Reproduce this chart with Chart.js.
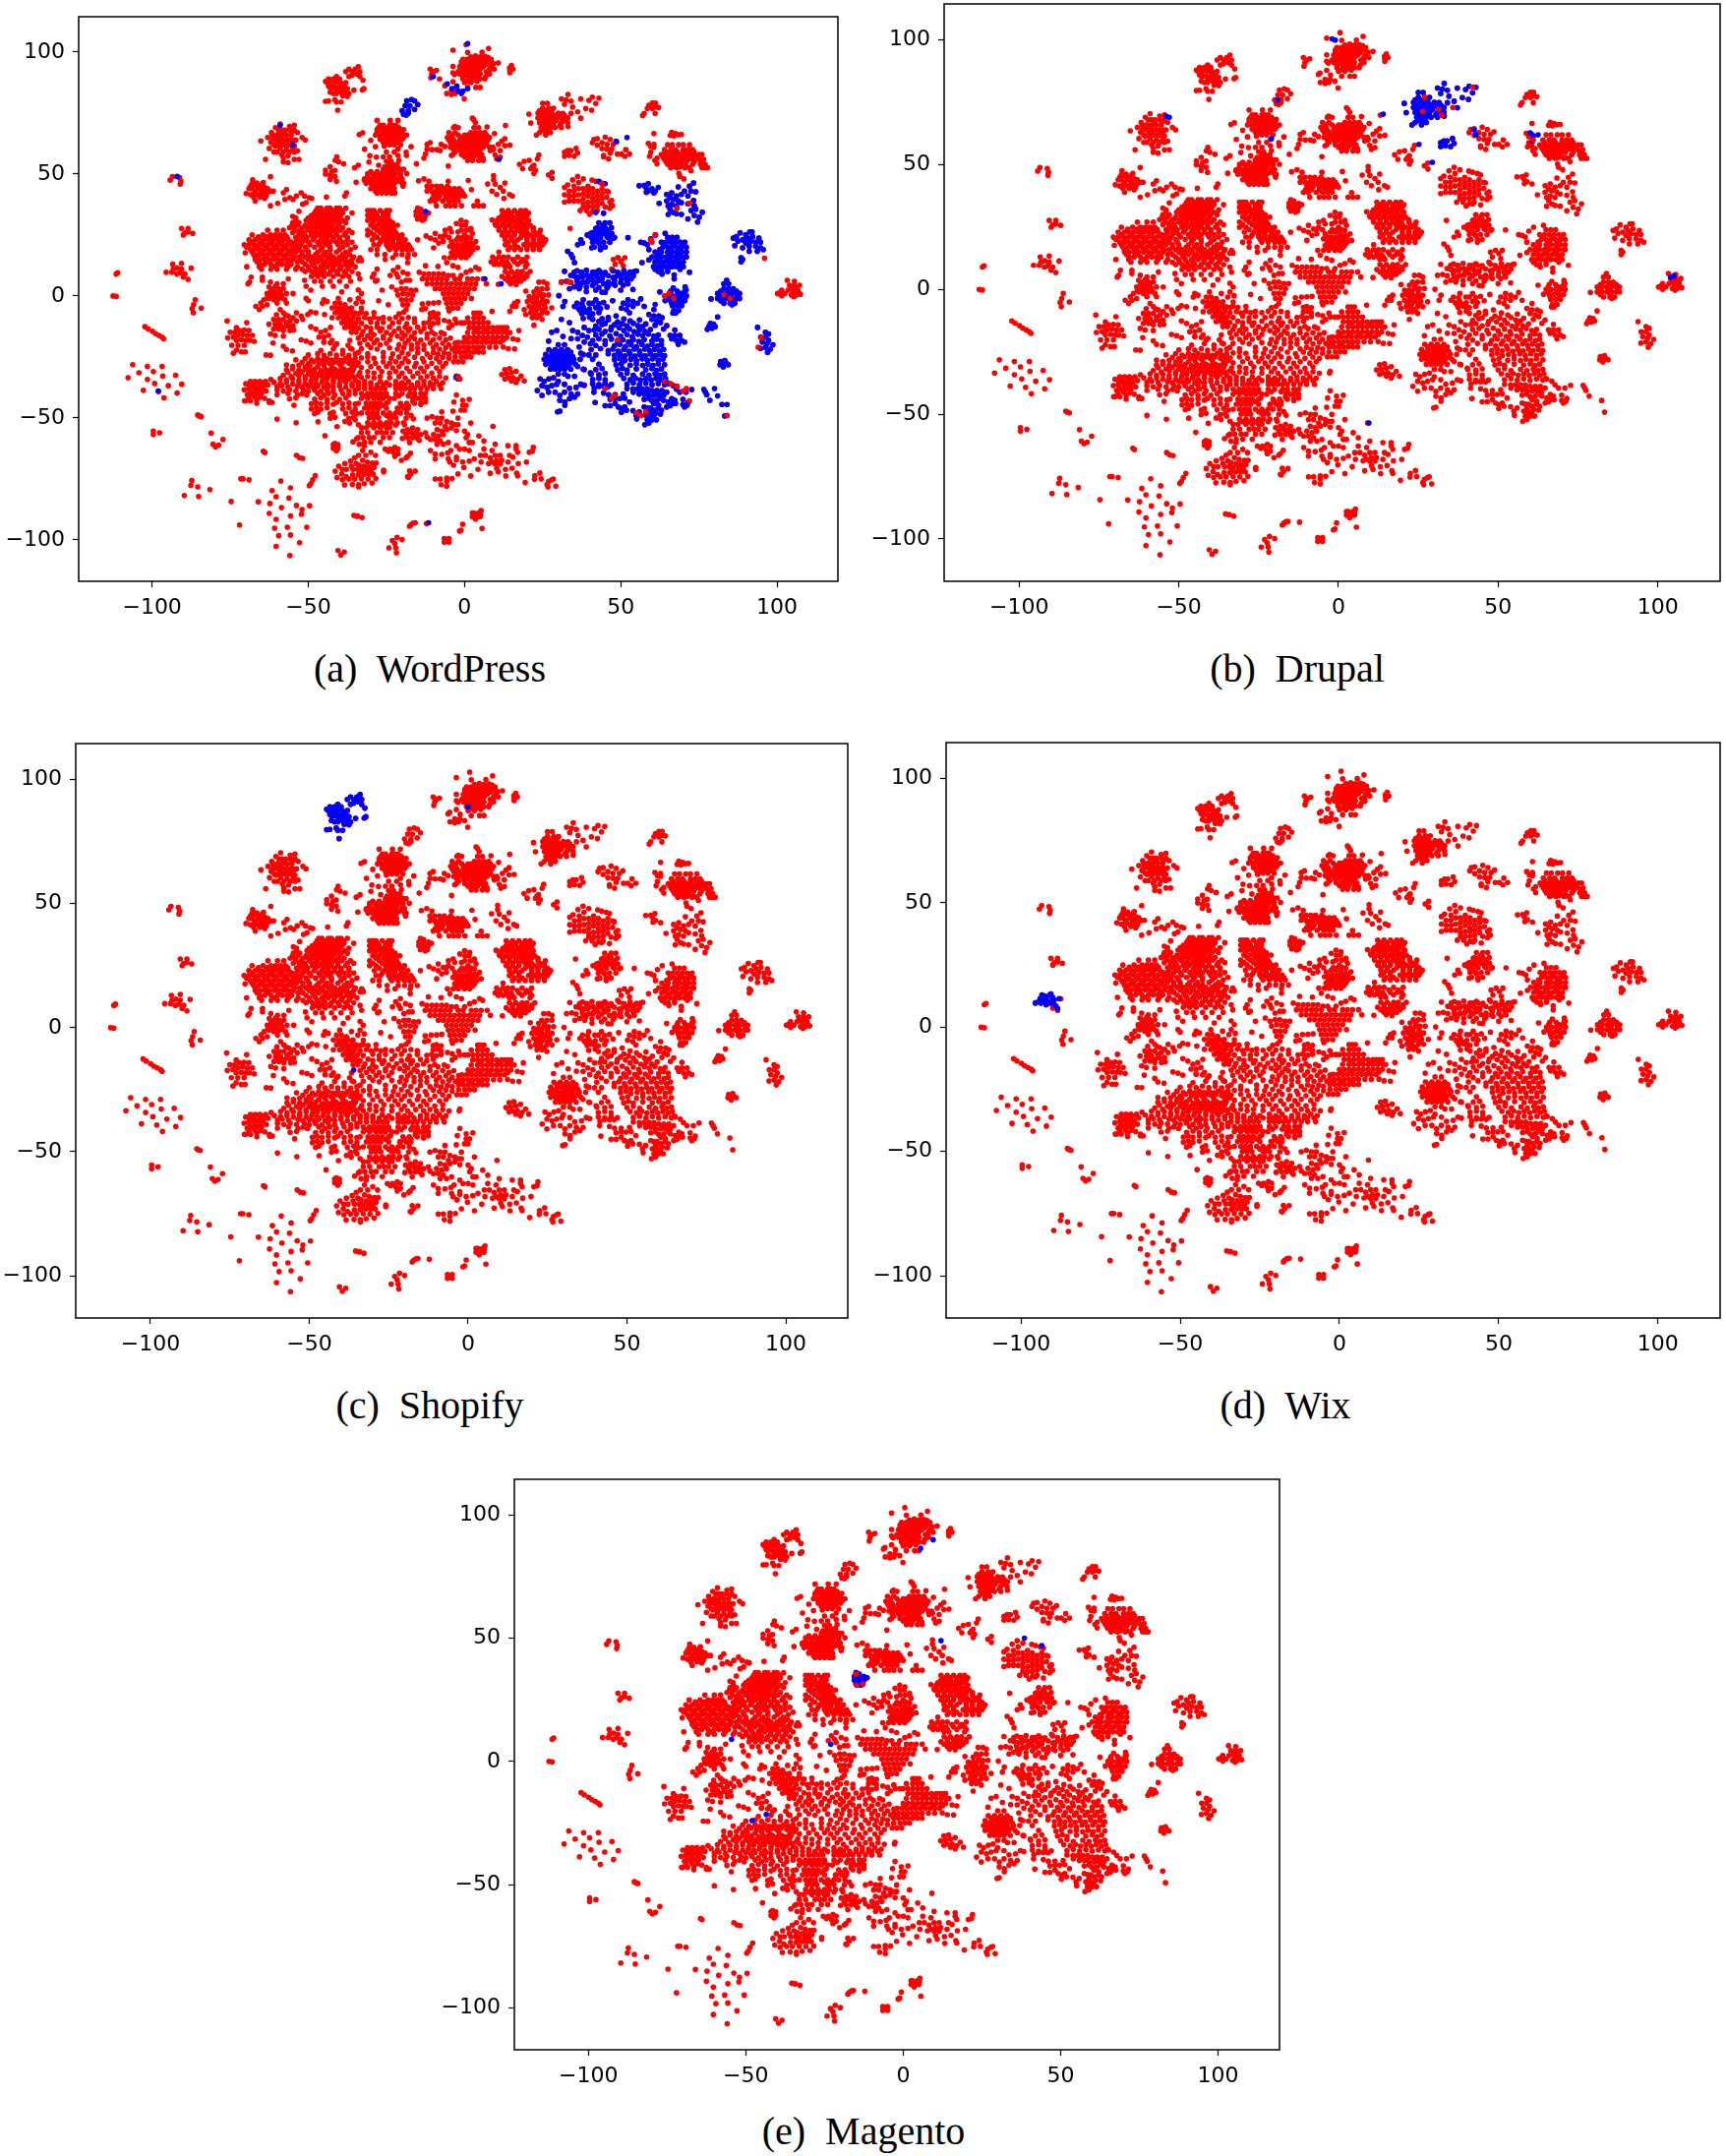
<!DOCTYPE html>
<html>
<head>
<meta charset="utf-8">
<title>t-SNE by CMS</title>
<script src="https://cdn.jsdelivr.net/npm/chart.js@4"></script>
<style>
html, body { margin: 0; padding: 0; background: #fff; }
#page { position: relative; width: 1755px; height: 2192px; overflow: hidden; }
canvas { position: absolute; }
.cap { position: absolute; font-family: "Liberation Serif", serif; font-size: 40px; color: #000; white-space: pre; transform: translateX(-50%); line-height: 44px; }
</style>
</head>
<body>
<div id="page"></div>
<script>
const tickValues = [-100, -50, 0, 50, 100];

const topLeft = [-44.5,88,-43.5,89,-43,87,-42,89,-41,90,-41,88,-40,89,-39.5,87,-38.5,86,-38,84,-37,83,-37.5,85,-39,84,-40.5,85,-42,85.5,-43.5,86,-41,83,-39,82,-42,83,-37.5,81.8,-44.5,79.8,-43.5,79.9,-41.5,80.5,-41,79.5,-39.5,79.5,-40.6,76.2,-35.4,84.4,-38,92,-37,93,-36,92,-35,93,-34.5,91,-36,90.5,-37,90,-34,94,-33.5,92,-33.5,90,-32.5,88.5,-32.2,85,-32.7,84.5];
const topLeftFill = [[87.5,-44,-42.5,-41,-39.7,-38],[85.5,-43,-41.5,-40,-38.5],[83.5,-43,-41,-39.5,-37.8]];
const upperLeft = [-63,65,-61.8,67,-60.5,69,-59,70.5,-58.5,68,-60,66,-62,63,-61,64.5,-59,65,-57.5,66.5,-56,69.5,-54.5,70,-55,67.5,-53.5,67,-54,64,-57,64,-59,63,-60.5,61.5,-62.5,60.5,-61,59,-59,60.5,-57.5,62,-56,62,-57,60,-58.5,58,-55,60.5,-56.5,57.5,-58,56.5,-58,55,-56.5,54.7,-54.5,56,-53,56,-65.2,63.6,-52,65,-51,64,-63.7,56,-54.5,61.5,-53.5,59.5,-55,63.3];
const upperLeftFill = [[68,-59.5,-57.5,-56,-54.5],[66,-61.5,-60,-58.5,-57,-55.5],[64,-61.5,-60,-58,-56,-55],[62,-61,-59.5,-58,-56.5,-55],[59,-60,-58,-56,-54.5]];
const nearUpperLeft = [-40.9,57,-41.4,55.6,-40.3,55,-38.7,54.2,-43,53,-44.5,51.6,-42.5,51,-44.5,50,-43,49.5,-41.5,49,-43,47.8,-41,47,-35.2,52.6,-34.7,46.6,-41.5,51.5];
const farLeft = [-93.5,48.9,-94.2,47.5,-91.2,48.5,-90.8,47,-91,45.8,-90.6,27.7,-88.5,27.7,-89.5,25.9,-90,25,-88.5,26.3,-87,25.7,-87.5,11.4,-111.5,9,-111,9.5,-112.5,0,-111.5,-0.2,-86.2,-1.6,-86.7,-3.6,-87.2,-5.2,-86.8,-6.9,-84.3,-5];
const wixSpot = [-93.4,13,-90.6,13.4,-95.5,9.7,-93.7,9.7,-92.1,9,-93.2,11,-90.6,11,-89.5,9,-88.5,6.8,-90,7.7,-92,11.5,-91,9.5];
const leftBlob = [-67.8,47.6,-68.5,45,-67,45.5,-65.5,45,-64,44.5,-63,44,-65,43,-67,43,-69,44,-66,41.5,-64,41.5,-63,42.5,-68.5,41.5,-67.5,40.5,-65.5,40.5,-64,40,-62,43,-61.2,43,-69.9,42,-67,39,-62.1,48.9,-64.4,46.5,-59.8,38,-62.1,37,-68,46,-66.5,46.3,-64.7,46,-68,44,-66,44,-64.5,43.2,-67.3,42,-65,42,-63.5,41];
const leftTrail = [-58,42.3,-57,43.6,-57.5,39.6,-55.9,40.3,-54.9,39.6,-52.3,42.3,-53.8,41,-51.2,41,-49.7,40.3,-50.7,38.3,-48.9,40,-51.8,37.6,-44.2,40.6,-37.8,42.3,-38.3,41];
const topCentre = [0.5,103,-3.7,100.8,1,99.9,7.7,101.5,5.6,100,2,98,3.5,98.4,5,98,6.5,98.2,7.5,97.8,-1,96,0.5,96.4,2,96,3.5,96.3,5,96,6.5,96,8,96.2,-1.5,94,0,94.2,1.5,94,3,94,4.5,94.2,6,94,8.5,94,-2,92,-0.5,92.2,1,92,2.5,92,4,92.2,7,92,-0.5,90,1,90.3,2.5,90,4,90.2,6.8,90,0.5,88,2.5,88.3,4,88,-3.7,94.1,-3.7,91.5,-3.2,90.8,10.8,95.5,9.3,95.2,7.9,92.1,-6.3,86.2,-5.8,86.8,-3.7,87.9,0,87.5,2,87.5,1,85.5,-4.2,84.2,-2.6,84.2,-1.1,83.5,-4.2,82.6,-5.7,83,-0.1,80.8,3.6,85.5,5,85.5,-2.5,86,-3,83,14.4,93.5,15.5,93,14.5,92.5,15,94.5,14.5,91.5,-11,93,-10,92,-9,92.5,-10.8,89.5,-10.5,91];
const topCentreFill = [[97,-0.5,1,2.5,4,5.7,7.3,8.5],[95,-1,0.7,2.2,3.8,5.2,7,9],[93,-1.2,0.5,1.8,3.3,5,8,9.5],[91,-1.5,0,1.7,3.2,5,8],[89,-0.5,1.5,3.3,5,6.5]];
const smallTop = [-18.5,80,-17,80.5,-16,80,-15,78.5,-17.5,78,-19,78,-16,76.5,-18,76,-20,76,-19.5,74.5,-18,75,-18.7,74.2];
const columnRows = [[72,-28,-23.8,-21.3],[70,-27,-26,-24,-23,-22],[68.2,-28,-26.5,-25,-23.5,-22,-20.5,-19.5],[66,-28.5,-27,-25.5,-24,-22.5,-21,-19.5,-18.5],[64.2,-27,-25.5,-24,-22.5,-21,-20],[62,-25.5,-24,-22.5,-20.5],[59,-25,-22.5],[57,-24,-26],[55.2,-23.5,-25],[54,-24,-23,-21.5],[52,-26,-25,-23.5,-22,-20.5,-19.5],[50.2,-31,-29.5,-28,-26.5,-25,-23.5,-22,-20.5,-18.5],[48,-32,-30.5,-29,-27.5,-26,-24.5,-23,-21,-20],[46.2,-31.5,-30,-28.5,-27,-25.5,-24,-22.5,-20,-19.5],[44,-30,-28.5,-27,-25.5,-24,-22.5],[42.2,-28,-26.5,-25,-23.5,-22.5]];
const columnFill = [[69,-27.5,-25.5,-24,-22.5,-21],[67,-28,-26,-24.5,-23,-21.5,-20],[65,-27,-25,-23.5,-21.5,-19.5],[63,-26,-24.5,-23,-21.5],[53,-25.5,-24.5,-23,-21.5],[51,-30,-28,-26,-24.5,-23,-21],[49,-31,-29,-27,-25.5,-24,-22.5,-20.5],[47,-31,-29.5,-28,-26.5,-25,-23.5,-21.5],[45,-29,-27.5,-26,-24.5,-23],[43,-28.5,-27,-25.5,-24]];
const columnSpots = [-32.6,66.9,-33.7,66.2,-30,63.8,-28.5,61.2,-32,60.2,-25.7,61.5,-21.3,60.2,-17.1,61.2,-18.7,58.9,-18.6,57.6,-30.3,57.5,-30.6,54.9,-28.2,56.9,-27.5,53.6,-21,55.6,-21.3,57.6,-34,53.6,-22.3,42.3,-19.7,45,-32.1,47.6];
const midTopRows = [[69,-3.5,-2,3,4.5],[67,-5,-3,2,3.5,5,6.5],[65,-5.5,-4,-1,0.5,2,3.5,5,6.5,8],[63,-4.5,-3,-1,1,2.5,4,5.5,7],[61,-4.5,-3,-1.5,0,1.5,3,4.5,6,8,9],[59,-3,-1,1.5,3,4.5],[57,0,1.5,3,5],[55.5,1,2.5,4.5,6]];
const midTopFill = [[66,-4,-2,0,1,3,4.5,6,7],[64,-5,-3.5,-1.5,0,1.5,3,4.5,6,7.5],[62,-3.5,-1.8,-0.3,1,2.5,4,5.3,7],[60,-3.5,-1.5,0,1.7,3.5,5,9],[58,-1,0.7,2.3,3.7,5.5]];
const midTopSpots = [3,72.2,2.5,72.9,3.5,71,-3.1,69.5,7.2,69.3,13.1,69.9,9.6,66.6,12.9,64.5,11.9,63.5,14.5,61.8,10.8,62.2,9.3,60.2,11.4,59.6,12.9,61.6,9.8,57.8,11.4,56.9,8.2,59.6,10.3,56.2,-12,62.2,-11,62.9,-7.5,62.2,-6.3,61.3,-12,60.2,-10.4,60,-8.8,60,-7.8,59.6,-12.5,58.2,-13,56.5,-3.7,58,-4.2,57.6,-15.4,54.2,-5.2,53.3,4.9,56.2,5.9,56.5];
const rightTopRows = [[79,25,26.5],[77,25,27,28.5],[75,23.5,25,26.5,28,30],[73,23.5,25,26.5,28,29.5,31,33],[71,24,25.5,27,28.5,31,33],[69,24.5,26,27.5,29,31],[67,24,26,27.5],[66,23,26],[76,24,26,27.8],[74,24.2,25.8,27.3,29,30.5,32],[72,24.5,26.3,27.7,29.3,32],[70,25,26.8,28.3,30.5],[68,25,26.8]];
const rightTopSpots = [20.6,74.6,21.2,70.9,33.1,82.6,31,80.8,32.5,80.4,34.1,79.9,32,78.6,34.6,77.5,37.2,80.8,39.8,80.2,38.8,76.9,36.2,75.5,34.1,74.9,37.2,72.9,33,72.9,31.5,74.9,33.1,69.5,40.9,81.5,43,81.1,42,78.9,40.7,76.2];
const stripA = [17.6,54,19.1,55.2,20.7,55.6,18.6,52.2,22.2,53.6,21.2,52.2,22.7,51.6,21.7,53,22.2,50.3,23.8,57.8,23.3,56.2,28,50.7,26.9,49.6,28,48.3];
const stripB = [32,58.9,33,59.6,34,59.6,35.7,60.5,32,57.3,33.5,57.6,35.1,57.3,36.2,58.6];
const leftOfCap = [9.3,49.3,9.3,47.6,7.4,45.9,9.8,45.8,11.4,44.5,8.8,43,10.3,41.6,12.9,46.3,12.4,43,12.6,40,15.3,41,14.4,41.6];
const underMidRows = [[45,-12,-10.5,-9,-7.5,-5.5],[43,-12,-10.5,-9,-7,-5.5,-4,-2.5,-1],[41,-9.5,-8,-6,-4.5,-3,-1.5,0],[39,-11,-9.5,-7,-5,-3.5,-2],[37,-9,-6,-4.5,-3,-1,3,4.5,6],[44,-11.2,-8,-6.5,-4.7,-3.2,-1.7],[42,-10,-8,-6.3,-5,-3.5,-2,-0.5],[40,-10.3,-8.5,-6,-4,-2.5]];
const underMidSpots = [-14.7,47.2,-13,48,-11.4,47,-5.2,47,1.2,47.3,2.2,43.6,4.1,38.9];
const rightBlob = [36.2,49,34.6,47.6,33,45.5,32,44.5,33.5,43,32,41.5,33.5,41,32,38.5,33.5,39,35,45,35,43,35,41,35,39,36.5,46.5,36.5,44,36.5,41.5,36.5,39,38,48,38,44,38,42,38,40,38,38,38,36.5,39.5,45,39.5,43,39.5,41,39.5,38.5,39.5,36.5,40.8,47.5,42,47,43.5,46.5,44.5,46,41,44,41,42,41,40,41,38.5,41,36.5,42.5,43,42.5,41,42.5,39,42.5,37,42.5,35,44,44,44,42,44,40,44,38,45.5,43,45.5,40.5,46.5,38.5,47,37,46.5,36,45,36.5,41,34.5,40,33.5,39,35,37,35,46,42.7,47.1,39.2,47.4,37];
const rightCap = [41.4,64.2,42.5,64.5,40.9,62.9,45,65.1,46.6,64.2,48.7,63.2,44,62.9,45.6,62.2,47.6,62.2,42.5,61.8,44,60.5,45.6,60.2,47.1,60.2,46.6,58.6,44.5,57.6,46.1,56.2,44.5,57,48.9,58.2,50.2,58.2,51.6,60,52.8,58.2,51.3,57.2];
const capRight = [60.1,79.1,61.1,79.1,59,78.2,62.1,77.3,58.5,76.9,60.1,76.9,61.1,77.6,61,74.9,57.5,74.9,57,74];
const eastTopRows = [[62,65,66.5,68.5,70,72],[60,64,66,67.5,70,71.5,73],[58,63,64.5,66,67.5,69,70.5,72,73.5,75,76],[56,64,65.5,67,68.5,70,71.5,73,75,76.5],[54,65,66.5,68,69.5,73,75.5,77],[52.6,66,68,70.5,72,76,77,77.8],[59,64.5,66.5,68,70,72,73.5],[57,63.5,65,66.5,68,69.5,71,72.5,74],[55,64.5,66,67.5,69,71,73.5,76],[53,66,67.3,69,71]];
const eastTopSpots = [60.6,66.6,66.3,67.1,67.5,66.6,65.8,65.8,67,65.6,69.4,66.2,68.4,66.1,58.8,62.6,60.6,62.2,59.6,61.3,60.6,61,59.6,58.9,59.2,57.2,61.6,56.5,60.9,55.6,61.6,54.2,72.5,51.3,68.6,50.3,68.9,49,70.2,48];
const stripC = [55.9,45.2,57.5,45.3,58.8,46,58,44.5,59,43.2,58.2,42.5,60.6,42.3];
const stripD = [73.3,46.3,72,45,68.4,44.7,70.4,43,69.4,41.6,74,42.7,72.5,43,64.7,41.6,66.3,42.3,71.5,41,67.8,41,65.8,40.3,66.8,39.6,64.7,39,73.3,39.2,68.4,39,66.3,37.5,67.8,36.9,65.2,36.9,69.4,38.3,62.3,38,71.5,37.8,73.5,37,65.8,35.6,66.8,34.3,65.2,33.4,67.8,33.7,69.4,33.4,72.5,35,74,35.6,76.1,34.3,71.5,31.6,73.5,33,75.1,32.3,74.6,30.3];
const stripE = [44.5,33.9,42,34.3,44.5,29,42,27.7,40.4,25.7,47.1,25.7,47.6,23.7,44.5,25.7,43,25,45.6,24.3,40.9,23.7,42,23,43,21.7,40.7,19.7,43.5,19,52.3,23.9,37.2,23,39.3,25,40.4,24.3,45,28,46,27,43.5,27,41.5,25.5];
const stripEFill = [[30,43,45,46.5],[28,42.5,44,47],[26,41,42.7,44.5,46],[24,41.5,43.5,46,48],[22,41,42.7,44.5,46.5],[20,41.5,43.5,45]];
const eastBlobRows = [[24,65,66.5,68],[22,63,64.5,66,67.5,69,70.5],[20,63.5,65,66.5,68,69.5,71],[18,61,63,65,66.5,68,69.5,71],[16,60,61.5,63,64.5,66,67.5,69,70.5,71],[14,61,62.5,64,65.5,67,68.5,70],[12,60.5,62,63.5,65,66.5,68,70],[10,62,63,65],[21,63.8,66.8,70],[19,62.5,65.8,68.8],[17,62.3,65.3,68.3],[15,62,65,68],[13,63,66,69],[11,61,65,69]];
const eastBlobSpots = [56.4,22,57.5,21.7,59.6,23.4,61.1,25,64.2,25.7,58.5,21,59,19,56.8,13.7,59,14.8,63.2,9,67.1,8.6,67.1,7,72,9.7];
const eastLowRows = [[2,66,68,70.5],[0,65,66.5,68,69.5,71],[-2,66,67.5,69,70.5],[-4,66.5,68,69.5],[-6,67,68.5],[-7,66.7,67.5],[1,65.7,69,70.5],[-1,65.5,68.7],[-3,66.3,69.3]];
const eastLowSpots = [66.8,3.3,70.6,3.7,62.5,1.7,64.2,-1.9,70.9,2.4];
const farEastRows = [[5,83,84.5],[3,83,84.5,86],[1,81,82.5,84,85.5,87,88],[-1,81,82.5,84,85.5,87,88],[-3,83,85,86.5],[2,82,85.2,87],[0,81.7,84.8,87.5],[-2,82,85.2]];
const farEastSpots = [83.9,6.4,78.9,-1.2,85.6,-3.6];
const dotsG = [81,-8.6,78.7,-11.3,79.7,-11.6,80.2,-12.6,78.2,-12.6,77.7,-13.7,79.2,-13.2];
const dotsH = [93.8,-12.9,96.3,-14.9,97.3,-15.6,94.8,-16.9,96.3,-16.9,97.3,-18.2,95.3,-18.9,96.8,-19.6,98.7,-20,94.7,-21.5,96.3,-21.1,97.8,-21.8,97,-23.1];
const dotsI = [82.8,-27.5,81.8,-28.2,83.9,-27.8,82.8,-29.1,83.3,-26.5,82,-26.9,84.4,-28.2];
const farEastUp = [88.2,25.9,87,24.3,86,23.7,91.3,26.3,92,26.3,86.5,20.6,89,23,90.6,23.7,92.2,24.3,94.2,23.7,94.7,22,90,21.7,91.6,22.3,93.2,22,89,19.7,91.1,20.3,93.2,20.3,94.7,19.7,91.1,18.3,93.7,18.3,95.6,19,88.5,15.7,89,15,88.5,14,90,25,87.5,22.5];
const farEastRight = [103.3,6.4,105.6,6,101.5,2.4,100.2,1,101.5,0.1,102.5,1,101,1.5,104,4.4,105.6,4.4,107.2,4.4,103.5,2.4,105.1,2.4,106.7,2.4,107.5,0.7,104.6,0.4,106.1,0.4,105.4,-0.3,104.5,3,106,3.2,105.3,1.3,106.8,1.3];
const clusterLupper = [49.2,15.7,51.3,15.7,47.6,15,50.2,14.4,48.2,13,47.1,11,50.8,12.4];
const clusterLlower = [49.2,9,50.8,9,52.3,9,54.4,10,48.2,7.7,50.2,7,51.8,7,53.3,7,50.8,4.4,52.3,5,53.9,2.7,50,2.4,48.2,4.4,47.6,5,41.9,9.7,43.5,9.7,45,9,40.9,8.4,42.5,7.7,44,7,40.9,6.4,44.5,5,45.6,3.3,45,1.5];
const rowEast = [36,10.3,37.5,9.6,39,10.5,41,9.7,43,10.4,45,9.6,47.5,10.3,49,9.7,51,10.4,53,9.8,55,10.2,35,8.2,36.5,7.6,38,8.3,40,7.5,42,8.5,44,7.6,46,8.3,47.5,7.5,49.5,8.4,52,7.6,54,8.2,36,6.2,38,5.6,39.5,6.3,42,5.5,43,6.3,46,5.7,48,6.3,50,5.5,52,6.2,37,4.2,39,3.6,41,4.3,43,3.5,46,4.1,39,1.8,42,2.4,44,1.6,43,-3.2,44.5,-2.7,36.5,-5.2,38,-4.7,40,-5.3,42,-4.8,43.5,-5.2,37.5,-7.2,39,-6.7,41,-7.3,43,-6.8,38,-9.2,40,-8.7,44,-9.3,46,-8.8];
const lowerTop = [42,-1.6,41,-3,47.4,-2,45.6,-4.5,48.5,-8.2,52.3,-1.6,53.9,-2.3,50.8,-3,52.3,-3.6,53.9,-4.3,55.4,-3,56.4,-1.2,57.5,-4.3,50.2,-5,51.8,-5.6,52.8,-6.9,60.6,-5.6,59,-7.6,60.6,-8.2,62.2,-8.2,63.2,-8.9,60,-9.6,61.6,-10.2,62.7,-10.9,67.3,-14,65.8,-16.2,67.3,-16.2,68.9,-16.2,66.3,-17.6,67.8,-18.2,69.4,-18.2,70.4,-18.9,68.4,-19.8,64.7,-12.2,63.7,-13.6];
const lowerCloud = [41,-9.6,43,-10.4,46,-9.8,49,-10.6,51,-9.4,53,-10.2,56,-9.8,45,-11.3,48,-11.8,50.5,-11.4,52,-12.3,54,-11.2,55.5,-12.2,58,-11.5,42,-12.4,44,-11.7,47,-12.8,49.5,-13,57,-12.6,61,-12,41.5,-14,43,-13.7,45,-14.6,46.8,-13.9,51,-14.2,52.8,-13.6,54.3,-14.7,56,-14,57.8,-14.6,59.5,-13.8,42,-16,44,-15.6,46.5,-16.4,48.5,-15.5,50,-16.6,52,-15.9,53.7,-16.8,55.5,-15.7,57,-16.3,58.8,-15.6,60.5,-16.5,62,-16,41,-18.3,43,-17.6,45,-18.4,47,-17.7,49,-18.6,50.7,-18,52.5,-18.8,54,-18,55.8,-18.7,57.5,-17.9,60,-18.5,61.5,-17.8,63,-18.3,42,-20.3,45,-19.8,48,-20.4,49.7,-19.9,51.5,-20.7,53.3,-20,55,-20.8,56.8,-19.9,58.5,-20.6,60,-19.9,61.7,-20.5,63,-20,40.5,-22,43.5,-21.6,46,-22.4,47.5,-21.7,49.2,-22.6,51,-21.9,52.6,-22.7,54.3,-21.8,56,-22.6,57.7,-21.8,59.3,-22.5,60.8,-21.9,62.4,-22.6,63.7,-21.9,42,-24.2,46,-23.7,48,-24.4,49.7,-23.8,51.3,-24.6,53,-23.9,54.6,-24.7,56.2,-24,57.8,-24.6,59.5,-23.8,61,-24.5,62.6,-24,64,-24.5,41,-26,48,-26.2,49.7,-25.6,51.3,-26.5,53.2,-26,55,-26.6,56.8,-25.8,58.5,-26.4,60.2,-25.8,62,-26.4,63.5,-25.9,43,-28,48.5,-28.3,50.2,-27.8,53,-28.4,55,-27.9,57,-28.5,58.7,-28,60.3,-28.5,62,-27.9,64,-28.2,42,-30.2,44,-29.8,49,-30.3,50.5,-29.7,52,-30.4,55,-29.9,58,-30.3,60,-29.8,61.5,-30.5,63,-29.9,40.5,-32,43,-32.3,45,-31.8,50,-32.2,52,-31.7,54,-32.5,57,-32,59,-32.5,61,-31.9,62.5,-32.5,64,-32,41,-34.2,43,-33.8,45,-34.3,51,-33.8,53,-34.3,54.7,-33.7,56.3,-34.4,58,-33.8,59.7,-34.4,61.3,-33.8,63,-34.4,64.3,-33.8,41,-36,43,-36.4,45,-35.8,47,-36.3,52,-36.2,54,-35.7,56,-36.4,58,-35.8,60,-36.4,62,-35.9,64,-36.3,65,-35.7];
const lowerEdge = [41.5,-37.8,43,-37,44.5,-37,46,-37.1,52,-38,53.9,-38.2,55.4,-38.2,57,-38.2,58.5,-38.2,60,-38.8,61.6,-38.8,63.2,-38.8,64.7,-39.5,55.9,-40.2,57.5,-40.2,59,-40.8,60.6,-40.8,62.2,-40.8,63.7,-40.8,57.5,-42.4,61.6,-42.8,63.2,-42.1,41.4,-39.5,44.5,-39.8,46.1,-40.5,48.2,-40.5,50.8,-40.2,46.6,-42.4,48.2,-42.1,49.7,-42.1,51.3,-41.9,52.8,-43.5,45,-45,46.6,-45,48.2,-44.1,49.2,-45.5,50.2,-46.1,51.3,-45.5,50.2,-47.7,51.8,-46.8,66.3,-42.1,67.3,-42.8,65.2,-43.5,66.3,-44.1,64.7,-45.5,67.5,-44.1,65.8,-45,65.2,-36,66.8,-36.8,67.8,-38.2,68.9,-39.5,70.9,-39.5,72.7,-38.4,69.9,-42.4,71.5,-43.7,69.9,-44.5,70.4,-45.5,71.2,-44.8,53.9,-47,55.9,-47.5,54.9,-48.8,55.1,-50.4,57.5,-45.5,58.5,-45.9,59,-47.5,60.6,-46.8,58,-48.8,59.5,-48.8,61.1,-48.1,62.7,-48.4,58.5,-50.8,60,-50.8,61.4,-50.8,57.7,-52.8,59,-52.1,60.6,-44.1,62.1,-44.8,63.7,-42.8,54,-39.5,56.5,-39.2,58.5,-39.7,61,-39.8,62.5,-39.8,59,-42,60,-43,62,-46,63,-46.8,59.5,-46,60.5,-49.5,59,-49.8];
const lowerOut = [76.6,-38.4,77.1,-39.5,77.5,-40.5,78.5,-42.8,82.4,-44.5,83.3,-49.2,41.8,-43.7];
const blobWest = [30,-20,32,-20,27,-22,29,-22,31,-22,33,-22,26,-24,28,-24,29.5,-24,31,-24,32.5,-24,34,-24,38,-24,25.5,-26,27,-26,28.5,-26,30,-26,31.5,-26,33,-26,35,-26,37,-26,26,-28,27.5,-28,29,-28,30.5,-28,32,-28,33.5,-28,35.5,-28,27.5,-30,29,-30,30.5,-30,32,-30,34,-30,38,-30,30,-32,32,-32,27.9,-14.9,26.9,-18.5,29.5,-14.2,31.5,-16.6,34.1,-17.5,38.3,-12.9,39.8,-14.2,36.2,-14.9,37.7,-16.2,39.3,-16.9,34.6,-14.2,36.2,-17.6,38.3,-18.9,40.3,-19.6,36.7,-20.9,31,-9.6,33.6,-10.9,37.2,-23.5,39.8,-24.2,34.6,-24.9,36.2,-28.9,38.3,-30.2,40.3,-31.5,33.1,-32.9,35.2,-32.9,24.2,-34,25.5,-35,27,-34,28.5,-33.5,30,-35];
const blobWestFill = [[-23,28,30,32,34],[-25,26.5,28,30,31.5,33],[-27,26.7,28.2,29.7,31.2,32.7,34.5],[-29,28.2,29.7,31.3,33]];
const bandSouth = [23.3,-38.8,24.8,-36.8,26.4,-37.5,27.9,-36.8,29.5,-36.2,32,-36.2,33.6,-37.9,35.7,-37.5,37.2,-36.2,38.3,-36.6,24.8,-40.8,26.9,-39.5,29,-39.5,30.5,-40.8,32,-39.5,34.1,-40.2,36.2,-40.2,30.5,-42.8,32.1,-43.5,33.6,-42.1,35.2,-41.5,32.1,-44.8,30.5,-47.2,29.8,-47.5];
const northEastMid = [38,-1.6,36,-3,37.6,-3.3,39.9,-3,38,-5,35.2,-4.3,37,-6,38.8,-6,40,-7,32,10.1,35.1,9.7,37.2,9.7,34,8.4,35.7,7.7,37.7,7.7,39.3,8.4,31,5.7,32.6,6,34,5.5,36.2,5,37.7,5.5,39.3,5.7,35.1,3.7,36.7,3,33.6,3,30.2,0.1,32.1,-2.3,31.5,-4.3,33,18.3,34.1,17,34.6,15.7,35.2,13.7,37.7,21.7,36.2,21];
const clusterMid = [23.8,5.7,25.3,5.7,26.4,5,19.6,2,22.2,1.7,23.2,3,24.8,3,26.4,3,20.7,-0.3,22.2,-0.3,23.8,0.4,25.3,0.4,26.9,0.4,20.1,-2.3,21.7,-2.3,23.2,-2.3,24.8,-2.3,26.4,-2.3,27.9,-4.9,19.1,-5.6,20.7,-4.3,22.2,-4.3,23.8,-4.9,25.8,-4.9,19.6,-7.6,21.2,-6.9,22.7,-6.9,24.8,-6.9,26.4,-6.9,21.7,-8.9,23.2,-8.9,24.8,-9.6,22.2,-12,17,-2.3,16,-3,15.3,-4.3,14.5,-6.3,16.5,-4.3,8.8,-6.3,17.4,-14.2,17,-18,15.5,-17.6,12.4,-20.9,14,-21.6,16,-21.7,24,1.5,21.5,-1.3,23,-1,25,-1,22.5,-3.5,24,-3.5,25.5,-3.7,21.5,-5.5,23,-5.7,25,-5.7,22.5,-7.8,24,-8];
const dotsSouthEast = [12.9,-30.2,14.4,-29.8,11.9,-32.2,13.4,-31.8,15,-31.5,16.5,-30.9,18.1,-32.8,13.9,-33.5,15.5,-33.5,17,-34.2,19.1,-34.8,15,-34.8,16.5,-35.5,12.9,-34,-2.8,-33.5,-2.6,-32.8];
const archRows = [[35,12,14,16,18,19.5],[33,12,13.5,15,17,18.5,20],[31,10.5,12,13.5,15,16.5,18,20.5],[29,10,12,14,16,17.5,19,21],[27,11,13,15,17,19,22,24.3],[25,12,14,16,19,21,23,24],[23,13,15,17,20,22,24,26],[21,13,16,19,21,23,25],[19,14,16,18,20,22,24],[18,11],[16,9,11,12.5,14,17,20],[14,8.5,10,12,13.5,16,18,19.5],[12,13,14.5,19.5],[10,13,15,17,18.5,21],[8,12,14,16,17,18.5,20],[6,14,15.5,17,18]];
const archFill = [[34,13,15,17,19,20.5],[32,11,13,14.5,16,17.7,19.3],[30,10.5,12.5,14.5,16.5,18.5,20],[28,11,13,15,16.7,18,20,22],[26,12.3,14,16,18,20,22.5,24],[24,13,15,18,20,22,25],[22,14,16,20,22,24,25.5],[20,14.5,17,20,22,24],[15,10,12,15.5,18.5],[13,9.5,11,12.5,14,17,20],[9,14,16,18,20],[7,13,15,17,19]];
const archSpots = [8.8,31.2,9.8,29.4,10.8,4.8,14.7,5,16.5,4.7,33.8,27.7];
const midBlob = [-1.1,31,-2.6,29.7,0.5,30.3,2,27.7,2.5,25.7,-4.7,27.7,-6.2,27,-9.4,25.7,-10.9,23.7,-7.8,24.3,-6.2,25,-9.4,23,-8.3,21.7,-9.9,19.7,-6.8,22.3,-4.2,26.3,-2.1,26.3,0,25,2,23.7,3.6,22.3,-4.2,22.3,-2.6,23,-1.1,23,0.5,22.3,2,21.7,-4.7,20.3,-3.1,20.3,-1.6,20.3,0,20.3,1.5,19.7,4.1,19.7,-4.2,17.7,-2.6,17.7,-1.1,17.7,0.5,17.7,2,17.7,-3.1,15.7,-1.1,15.7,0.5,15.7,-4.7,15.7,-6.5,15.7,-5.7,13.7,-3.7,12.4,-2.1,11.7];
const midBlobFill = [[24,-2,-0.5,1,-5,-7],[21,-3.5,-2,-0.5,1,2.7],[19,-3.5,-2,-0.3,1,2.7],[16.7,-3.5,-1.8,0,1.3],[27,-1,0.7,2],[29,-1,0.3]];
const sweepRows = [[35,-31,-30,-29,-27,-25,-24],[33,-31,-29.5,-28,-26,-24.5],[31,-31,-29,-27.5,-26,-24],[29,-30,-28,-26,-24,-23,-21.5],[27,-31,-28,-25.5,-24,-22.5],[25,-31,-29,-26,-24.5,-23,-21.5,-20],[23,-29.5,-26.5,-24.5,-23,-21,-19],[21,-29,-27.5,-25,-23.5,-21.5,-20,-18],[19,-30,-28,-24,-22,-20,-18.5,-17],[17,-28,-25.5,-22,-20,-18,-16]];
const sweepFill = [[34,-30,-28.5,-26,-24.5],[32,-30,-28,-26.5,-25],[30,-29.5,-27,-25,-23],[28,-29,-26.5,-25,-23],[26,-30,-27,-25,-23.5,-22],[24,-28,-25.5,-23.7,-22,-20.5],[22,-27,-25,-23,-21,-19.5],[20,-24.5,-22.5,-21,-19,-17.5]];
const sweepSpots = [-15,23,-12.3,24.6,-18.2,15.7,-18.2,13.7,-25.4,15,-23,15.7,-33.2,15,-34,14.5];
const knotCore = [-15,36,-14,35.5,-15.5,34.5,-14,34,-12.5,34.5,-15.5,33,-14,32.5,-12.5,33,-11.5,34,-15,31.5,-13.5,31,-12.8,31.5];
const sideWest = [-28,11,-29,9,-29.5,7.7,-28,6.4,-28.5,6,-21.3,11.7,-22.8,10.4,-21.8,9,-23.8,8.4,-21.3,7.7,-19.7,9.7,-18.2,9,-17.6,6.4,-18.7,6.4,-20.2,5.7,-26.4,2.4,-23.3,3.7,-21.8,2.4,-20.2,3,-18.7,3,-17.1,2.4,-15.6,2.4,-21.3,0.4,-19.7,1,-18.2,0.7,-16.6,0.4,-20.2,-1.6,-18.7,-1.6,-17.1,-1.6,-19.7,-3.6,-18.2,-3.6,-27.5,-2,-24.4,-3.6,-18.7,-5.6,-13.5,-3.3,-11.6,-3,-9.9,-2.9,-8.3,-2.7,-13.7,-5.6,-12.5,-5.2,-33.5,15.7,-33,14.5,-34,9,-33.5,7,-34,2.5,-33,1,-34,-1,-32.7,-2.5,-33,-5,-33.5,-7];
const centreSpots = [-12.5,12.4,-8.5,12.1,-3.7,8.4,3.6,11.7,4.6,11,2,10.4,0.5,9.7,-1.1,8.4,-14.5,9.7,-13,9,-11.4,9,-9.9,9,-8.3,9,-6.8,9,-5.2,8.4,-4.9,-6.2,2.2,-1,6,7,7,5];
const centreRows = [[7,-13.5,-12,-10.4,-8.8,-7.3,-5.7,-3.1,-1.6,1,2.5,4.1],[5,-12,-10.4,-8.8,-7.3,-5.7,-4.2,-2.6,-1.1,0.5,2,3.6],[3,-9.4,-7.8,-6.2,-4.7,-3.1,-1.6,0,1.5,3.1],[1,-6.8,-5.2,-3.7,-2.1,-0.6,1],[-1,-6.2,-4.7,-3.1,-1.6,0],[-3,-5.7,-4.2,-2.6,-1.1],[-5,-5.2,-3.7,-2.1]];
const armRows = [[-7,3,4,5],[-9,1,3,4.5,6],[-11,-1.1,0,1.5,3,4.5,6,7.5],[-13,1.5,3,4.5,6,7.5,9,10.5,11.5,12.5,13.5],[-15,1,3,4.5,6,7.5,9,10.5,12,13.5,14.5],[-17,0,1.5,3,4.5,6,7.5,9,10.5,12,13.5],[-19,-2,-0.5,1,2.5,4,5.5,7,8.5,10,11.5],[-21,-3,-1.5,0,1.5,3,4.5,6,8,10],[-23,-3,-1.5,0,1.5,3,4.5,6],[-25,-3,-1,0.5,2],[-27,-3.5,-2,-0.5]];
const armFill = [[-14,3.5,6.7,9.8,12.7],[-18,0.5,3.5,6.5,9.5,12.5],[-22,-2.5,1,4]];
const armSpots = [-6.5,-10,-5,-10.5,-4,-12,-3,-9.5,-2.5,-11,-5,-13];
const massCloud = [-34,-7.3,-33,-6.7,-31.5,-7.2,-29,-6.8,-21,-7.3,-19.5,-6.7,-11,-7.2,-10,-6.8,-8.5,-7.3,-34,-9.3,-32,-8.8,-30.5,-9.4,-29,-8.7,-27.5,-9.3,-26,-8.8,-24,-9.3,-22,-8.7,-20,-9.2,-18,-8.8,-16,-9.3,-11,-9,-9.5,-8.7,-8.5,-9.4,-33,-11.2,-30,-10.7,-28,-11.3,-26,-10.8,-23,-11.2,-21,-10.7,-18.5,-11.4,-16,-10.8,-13,-11.2,-11.5,-10.8,-10,-11.3,-8.5,-10.9,-34,-13.2,-31.5,-12.7,-30,-13.3,-28,-12.8,-26.5,-13.4,-24,-12.7,-21,-13.3,-19,-12.8,-17.5,-13.4,-15,-12.8,-13,-13.3,-11,-12.7,-32.5,-14.6,-30,-14.9,-27,-14.4,-25,-15,-22.5,-14.5,-20,-15.1,-18,-14.4,-16,-15.1,-14,-14.6,-10.5,-14.8,-12,-15.6,-9.5,-15.7,-7.5,-15,-6.5,-15.6,-33,-16,-31,-16.4,-29,-15.9,-26,-16.6,-23.5,-16,-21.5,-16.5,-19,-16.2,-17,-16.7,-34,-17.3,-32,-18,-30,-17.5,-28,-18.1,-26,-17.4,-24,-18,-20,-17.5,-18,-18.2,-16,-17.6,-14,-18.1,-12,-17.3,-10,-18,-8,-17.3,-6,-18,-4.5,-17.3,-33.5,-19.4,-31,-20,-29,-19.3,-27,-20,-25,-19.4,-21,-20,-19,-19.4,-17,-20.1,-15,-19.4,-13,-20.1,-11,-19.3,-9,-20,-7,-19.4,-5,-20,-3,-19.3,-33,-21.6,-30,-21.2,-28,-21.8,-24,-21.3,-21.5,-21.8,-19.5,-21.2,-17,-21.8,-15,-21.3,-13,-21.9,-10,-21.2,-8,-21.8,-6,-21.2,-4,-21.7,-34,-23.2,-31,-23.7,-26,-23.2,-23,-23.8,-20,-23.2,-18,-23.8,-15,-23.3,-12,-23.8,-10,-23.2,-8.5,-23.9,-6.5,-23.3,-5,-23.8,-33,-25.4,-31,-25,-29,-25.6,-26,-25,-23.5,-25.6,-21,-25,-19,-25.7,-16,-25.1,-13.5,-25.7,-11,-25.1,-9,-25.7,-7,-25.1,-5,-25.6,-34,-27.4,-31,-27,-28.5,-27.6,-26,-27,-24,-27.6,-22,-27,-20,-27.5,-18,-27,-15.5,-27.6,-13,-27,-10.5,-27.6,-8,-27.1,-6,-27.6,-33,-29.4,-30,-29,-27.5,-29.5,-25,-28.9,-23,-29.5,-21,-29,-18.5,-29.6,-16,-29,-14,-29.6,-12,-29,-9,-29.5,-7,-29,-33.5,-31.4,-31,-31,-29,-31.6,-26.5,-31,-24,-31.6,-22,-31,-20,-31.6,-17.5,-31,-15,-31.6,-13,-31,-10.5,-31.6,-8,-31,-33,-33.4,-31,-33,-29,-33.6,-27,-33,-24,-33.5,-21,-33,-19,-33.6,-16.5,-33,-14,-33.5,-12,-33,-10,-33.6,-8,-33,-6,-33.6,-34,-35.4,-32,-35,-30,-35.6,-27,-35,-25,-35.6,-22,-35,-20,-35.6,-18,-35,-15,-35.6,-13,-35,-11,-35.6,-9,-35,-7,-35.6];
const trailLine = [-102.3,-12.6,-101.3,-13.5,-99.9,-14.5,-98.9,-15.5,-97.8,-16.2,-96.8,-16.9,-96.3,-17.6];
const dotsWestA = [-106.2,-28.2,-101.5,-28.9,-96.8,-28.9,-104.2,-31.5,-99.6,-31,-96.6,-32.8,-92.5,-32.5,-107.7,-33.5,-101.5,-34.2,-102.8,-38.7,-99.2,-35.9,-98,-39.2,-94.8,-36.8,-96.2,-41.8,-92,-39.8,-90.5,-36.2];
const dotsWestB = [-76,-10.2,-69.7,-10.9,-73,-13,-75,-14.9,-73.5,-14.9,-72,-14.2,-70.5,-14,-69,-14.2,-67.9,-16.2,-75.8,-17.2,-74,-16.9,-72.5,-16.2,-71,-15.8,-69.5,-16.2,-67.3,-18.6,-73,-18.2,-71.4,-18,-70,-18.2,-74.5,-20.2,-72.5,-20.2,-70.5,-20.2,-74,-23.5,-73,-22.2,-71.4,-22.9,-70.2,-22.9,-68.8,-18.2];
const leftRows = [[27,-63,-60,-58],[25,-68,-64.5,-62,-60.5,-59,-57.5],[23,-69,-67,-65.5,-64,-62.5,-61,-59.5,-58,-56.5],[21,-70.5,-69,-67.5,-66,-64.5,-63,-61.5,-60,-58.5,-57,-55.5,-54],[19,-68.5,-67,-65.5,-64,-62.5,-61,-59.5,-58,-56.5,-55,-53.5],[17,-67.5,-66,-64.5,-63,-61.5,-60,-58.5,-57,-55.5],[15,-67,-65.5,-64,-62.5,-61,-59.5,-58,-56.5,-55],[13,-65.5,-64,-62,-60,-58.5,-57,-55.5],[11,-65,-62,-60,-57,-54,-52]];
const leftFill = [[24.2,-66,-63.2,-61.3,-59.7,-58.2,-56.8],[22.1,-68,-64.7,-61.7,-58.7,-55.5],[20,-69.7,-66.7,-63.7,-60.7,-57.7,-54.7,-53],[18,-68,-65,-62,-59,-56],[16,-67,-63.8,-60.8,-57.8,-54.5],[14,-66.4,-63.2,-59.4,-56.2],[12,-65.7,-61,-56.5,-53.5]];
const leftSpots = [-69.7,12,-70.2,17.7,-68.8,5.7,-69.3,5,-68.3,7.7,-64.7,7.7,-64.7,6.4];
const secondLeft = [-62.1,5.7,-60,5,-58,5,-56.4,7,-62.6,3.7,-61.1,3,-59.5,3,-58,3,-63.2,1,-61.6,1,-60,1,-58.5,0.4,-57,1,-54.9,1,-64.2,-1.6,-62.6,-1,-61.1,-1.6,-59.5,-1,-57.5,-1.6,-57,-2.9,-65.2,-2.9,-66.8,-4.3,-65.7,-5.6,-64.7,-4.3,-63.2,-3.6,-60,-2.9,-61.6,0,-51.2,6.4,-50.7,4,-49.2,2.4,-50.7,-1,-50,-2,-60.5,4,-62,2,-60.5,2,-59,2,-63,-0.3,-60.5,-0.3,-58.5,-0.7];
const thirdLeft = [-59,-5.6,-58,-6.9,-53.8,-6.9,-56.4,-8.2,-54.9,-8.9,-52.3,-8.2,-50.2,-7.6,-49.2,-6.5,-61.1,-9.6,-59.5,-9.6,-58,-9.6,-55.9,-10.2,-53.8,-10.2,-51.8,-9.6,-62.6,-11.6,-60.6,-11.6,-59,-11.6,-57,-12.2,-54.9,-12.2,-61.1,-13.6,-59.5,-13.6,-58,-14.2,-55.9,-14.2,-62.1,-15.6,-60.6,-16.2,-58,-16.5,-61.3,-19.3,-54.7,-14,-52.3,-18,-50.7,-18.5,-49.2,-19.3,-58,-20.6,-57,-22,-55.1,-22.5,-63.5,-24.2,-62.1,-24.3,-47.6,-6.9,-44.8,-7.6,-49.2,-12.6,-47.6,-13.6,-46,-14.9,-44.5,-14.2,-42.9,-12.9,-46.6,-16.9,-45,-16.9,-43.5,-16.2,-41.4,-20.2,-42.4,-18.2,-45,-18.9,-43,-19.2,-60.2,-7.7,-57.3,-7.8,-60,-10.7,-57,-11,-60,-12.7,-58,-13,-56,-12.5];
const upperMassRows = [[36,-47,-46,-44,-43,-41,-40,-38],[34,-48,-46.5,-45,-43.5,-42,-40.5,-39,-36],[32,-54,-50,-48,-46.5,-45,-43.5,-42,-40.5,-37.5],[30,-55,-53,-49.5,-48,-46.5,-45,-43.5,-42,-40,-38],[28,-56,-54.5,-52,-50.5,-49,-47.5,-46,-44.5,-43,-41,-39],[26,-55,-53,-51.5,-49,-48,-46,-44.5,-43,-41,-38,-36],[24,-54,-52,-50.5,-48,-45.5,-44,-42,-40,-37.5],[22,-54,-52,-50,-47,-45,-43,-41,-39,-36],[20,-53,-51,-48,-45.5,-43,-39,-35],[18,-54,-52,-50,-47,-44.5,-41,-38],[16,-53,-51,-49,-46.5,-44,-42,-40,-38,-35.5],[14,-53.5,-52,-49,-47,-44.5,-42,-40,-38,-37],[12,-50,-48,-46,-44,-42,-39.5,-37,-35],[10,-51,-49,-47,-45,-43,-41,-38.5,-36],[8,-49,-47,-45,-42,-39,-37],[6,-48,-46,-43,-40,-36.5],[4,-45.5,-42,-37.8]];
const upperMassFill = [[35,-47.5,-45.3,-43.7,-42,-40.5,-39.2],[33,-49,-47.2,-45.7,-44.2,-42.8,-41.2,-39.7],[31,-54,-50.7,-48.7,-47.2,-45.7,-44.2,-42.7,-41,-39],[29,-55.2,-53.5,-51,-49,-47.2,-45.7,-44,-42.5,-40.5],[27,-54.2,-52.5,-50,-47.5,-45.3,-43.7,-42,-39.7,-37],[25,-53,-51.2,-49,-47,-44.7,-43,-41,-38.5],[23,-53.5,-51,-48.5,-46,-44,-42,-40,-37.5],[21,-52.5,-49.5,-46.5,-44,-40.5,-37.5],[19,-53,-50.5,-46,-43,-40,-36.5],[17,-52,-50,-47.7,-45.2,-43,-39,-36.8],[15,-52.7,-50,-48,-45.7,-43,-41,-39,-36],[13,-51,-48.5,-45.3,-43,-40.8,-38.2,-36],[11,-49.8,-47.5,-45.5,-42.2,-40,-37.5],[9,-48,-46,-43.5,-40.5,-38]];
const upperMassSpots = [-53,34.7,-55,32.6];
const midLeft = [-45,-1.6,-45.5,-3,-44,-2.3,-40.4,-1,-39.3,1.7,-41.4,-3,-39.9,-3,-38.3,-3.6,-36.7,-1.6,-42.4,-4.9,-40.9,-4.9,-39.3,-4.9,-37.8,-4.9,-36.2,-4.9,-34.7,-3,-41.4,-6.9,-39.9,-6.9,-38.3,-6.9,-36.7,-6.9,-35.2,-6.9,-40.4,-8.9,-38.8,-8.9,-37.3,-8.9,-35.7,-8.9,-42.4,-8.9,-39.3,-10.9,-37.8,-10.9,-36.2,-10.9,-34.7,-10.9,-38.3,-12.9,-36.7,-12.9,-35.2,-12.9,-36.2,-14.9,-34.7,-14.9,-36.7,-18.2,-37.3,-20.2,-36.5,-21.5,-40.9,-19.6,-45,-18.9,-40.5,-6,-38.5,-5.8,-36.5,-5.9,-39.5,-8,-37.5,-8,-35.5,-7.9,-38.5,-10,-36.5,-10,-37.5,-12,-35.5,-12,-35.5,-14];
const lowerMassCloud = [-46,-22.3,-42,-21.7,-39,-22.3,-36,-21.8,-50,-24.2,-47,-23.7,-45,-24.3,-43,-23.7,-41,-24.3,-39,-23.8,-37,-24.4,-35,-23.8,-54,-26.2,-51,-25.7,-49,-26.3,-47,-25.7,-45.5,-26.4,-44,-25.7,-42.5,-26.3,-41,-25.8,-39.5,-26.4,-38,-25.7,-36.5,-26.3,-35,-25.7,-52,-27.2,-50,-27.7,-48.2,-27,-46.5,-27.6,-44.7,-27.1,-43.2,-27.7,-41.7,-27.1,-40.2,-27.6,-38.7,-27,-37,-27.6,-35.5,-27.2,-57,-28.3,-55,-28.9,-53,-28.4,-51,-29,-49.5,-28.6,-47,-29,-45,-28.5,-42.5,-29,-39.5,-28.7,-36,-29,-34.5,-28.4,-57,-30.3,-55,-29.9,-53,-30.4,-51,-30,-49.5,-30.5,-48,-30,-46,-30.6,-44.5,-30,-43,-30.5,-41.5,-30,-40,-30.6,-38.5,-30,-37,-30.5,-35.5,-30,-56.5,-31.3,-54,-31.8,-52,-31.2,-50,-31.8,-48.2,-31.3,-46.7,-31.9,-45.2,-31.2,-43.7,-31.8,-42.2,-31.3,-40.7,-31.9,-39.2,-31.2,-37.7,-31.8,-36,-31.2,-58,-32.5,-55.5,-33,-53,-32.6,-51,-33.1,-49,-32.7,-47.5,-33.2,-46,-32.7,-44.5,-33.2,-43,-32.7,-41.5,-33.2,-40,-32.7,-38.5,-33.2,-37,-32.7,-35.5,-33.2,-34,-32.6,-62,-34.2,-59,-33.8,-57,-34.4,-55,-34,-53,-34.5,-51,-34,-49,-34.5,-47.5,-34,-45.5,-34.6,-44,-34,-42,-34.5,-40,-34,-38.5,-34.6,-37,-34,-35,-34.5,-61,-35.4,-59,-35.9,-57,-35.4,-55,-36,-53,-35.5,-51,-36,-49.2,-35.4,-47.5,-36,-45.7,-35.5,-44,-36.1,-42,-35.5,-40,-36,-38,-35.4,-36,-36,-60,-37.2,-58.5,-36.8,-56.5,-37.3,-53.5,-37,-52,-37.4,-50,-37,-48.5,-37.4,-47,-36.9,-45,-37.4,-43.5,-36.9,-42,-37.4,-40,-36.9,-38,-37.4,-36,-36.9,-60,-38.6,-58,-39,-56,-38.5,-54,-39,-51.5,-38.6,-50,-39.1,-48,-38.6,-46,-39.1,-44,-38.6,-42,-39.1,-39.5,-38.6,-37,-39.1,-35,-38.6,-60,-40.5,-56.5,-40,-53.5,-40.6,-52,-40.1,-50.5,-40.7,-47,-40,-45,-40.6,-43.5,-40,-41.5,-40.6,-39,-40,-37,-40.6,-35,-40,-56,-42.2,-54,-41.8,-48,-42.3,-46,-41.8,-44,-42.4,-42,-41.8,-40,-42.4,-38,-41.8,-49,-44.2,-47.5,-43.8,-46,-44.3,-44,-43.8,-42,-44.4,-41,-43.7,-39,-44.3,-37,-43.8,-35,-44.3,-49,-46.3,-47.5,-45.8,-46,-46.4,-44,-45.8,-39,-46.3,-37,-45.8,-35,-46.3,-48,-48.2,-47,-47.7,-43,-48.3,-42,-47.7,-38,-48.2,-36,-47.7,-34.5,-48.3,-43,-50.2,-41.5,-49.7,-37,-50.2,-35.5,-49.8];
const lowerMassSpots = [-60,-50.5,-53.9,-52,-54.6,-44.8,-46.9,-51.6,-40.8,-53.6,-44.7,-57.3,-38.3,-51.5,-36.8,-52.1,-35,-50.8,-34,-52.8,-35.7,-59.8,-34.5,-58.5];
const farWestBlob = [-70,-36,-68.5,-35,-67,-35,-65.5,-35,-64,-35.5,-70.5,-38.5,-69,-38,-67.5,-37.5,-66,-37.5,-64.5,-37.5,-63,-36.5,-69.5,-40.5,-68,-40,-66.5,-40,-65,-40,-63.5,-39,-70,-43,-68.5,-43,-66.5,-42.5,-66.5,-44,-64,-42,-62.5,-43,-63.7,-35,-61.6,-43.7,-62.5,-43.7,-70.4,-43,-68.8,-36.5,-67.2,-36.3,-65.5,-36.3,-68.7,-39.2,-67,-39,-65.3,-39,-69,-41.7,-67.2,-41.3,-65.3,-41.5];
const bigDotA = [-42,-61,-42,-62.5,-40.5,-61,-40.5,-62.5,-41,-63.5,-41.5,-60.5];
const scatterSouthWest = [-85.4,-48.8,-84.3,-49.5,-84.9,-49.2,-99.6,-55.4,-99.6,-56.8,-97.6,-56.1,-81.1,-56.2,-77.3,-58.8,-80.5,-60.8,-79.7,-61.8,-78.7,-61.2,-64.4,-63.7,-63.9,-64.2,-53.8,-65.4,-52.8,-66.3,-51.8,-66.6,-70.9,-75,-69,-75.4,-71.6,-75,-87.3,-75.7,-87.6,-77.7,-85.4,-78.3,-81.5,-79.4,-89.7,-81.8,-85.1,-82.2,-74.7,-84.3,-72,-93.9,-47.8,-73.7,-48.6,-75.4,-49.7,-77.8,-49.2,-77,-58.8,-75.9,-55.7,-78.7,-61.6,-79.8,-60.3,-82.3,-56.2,-82.8,-66,-84.4,-62.3,-85.1,-58.6,-86.8,-53.8,-85.9,-49.6,-86,-52,-87.6,-52.2,-89.5,-62.5,-89.2,-55.7,-90.2,-60.3,-91.6,-56.7,-94.8,-60.8,-95.2,-50.5,-94.8,-55.7,-98,-59.5,-98.3,-52.8,-101.2,-60.3,-102.7,-55.9,-106.4,-40.5,-104.4,-39.6,-106.2,-38.5,-105,-35.4,-90,-34.4,-90.3,-34.2,-90.3,-32.8,-90.9];
const spiral = [-35.2,-66.4,-36.5,-67.7,-38.3,-68.7,-40.3,-69.8,-36.2,-69.8,-34.7,-68.7,-37.8,-71.1,-39.1,-71.1,-41.4,-71.8,-35.7,-71.1,-34,-70.7,-39.3,-73,-37.9,-74.1,-35.8,-73.4,-34,-73.4,-40.8,-74.5,-39.1,-75.4,-37,-75.1,-35.2,-75.1,-38.4,-77.5,-35.9,-77.3,-33.9,-77.4,-32.6,-67.4,-31.1,-68.1,-29.5,-68.5,-28.3,-68.5,-33.7,-69.4,-32.1,-69.8,-30.6,-70.1,-29,-70.3,-34.2,-71.1,-33,-71.4,-31.3,-71.4,-29.9,-71.7,-33.7,-73,-32.1,-73.1,-30.6,-73.1,-29.2,-73.1,-33,-75,-30.9,-75.1,-28.4,-74.9,-32.1,-77,-29.6,-76.7,-33.9,-78.3,-25.9,-71.4,-25.9,-72.1];
const southRows = [[-36.5,-34,-32,-30,-28,-26,-24,-22,-21,-20,-19,-17,-15,-13,-11,-10,-8],[-38,-34,-32,-30,-28.5,-27,-25.5,-22,-20.5,-19,-17.5,-16,-14,-12,-10,-7.5],[-40,-33,-31,-29.5,-28,-26.5,-25,-22,-20,-17.5,-16,-14,-12.5],[-42,-33,-31,-29,-27.5,-26,-24,-22.5,-16.5,-15,-14,-12.5],[-44,-34,-31.5,-30,-28.5,-27,-25,-20.5,-18.5,-16,-14],[-46,-32,-30.5,-29,-27.5,-25,-21.5,-19.5,-18],[-48,-33,-31,-29.5,-28,-26,-24,-22,-20.5,-18.5],[-50,-30.5,-29,-27.5,-24,-23.5,-22],[-52,-31,-29,-27,-25,-23.5,-21.5,-19.5],[-54,-33,-31.5,-29,-27,-25,-24],[-56,-33,-31,-28,-26.5,-25,-23],[-58,-34,-32.5,-30.5,-29,-26,-24],[-60,-32,-30,-27]];
const southFill = [[-41,-32,-30,-28.5,-27,-25,-21,-18,-16,-13.5],[-45,-31,-29,-28,-26,-20,-18],[-49,-30,-28,-25,-23],[-53,-30,-28,-26,-24,-22]];
const southBlobA = [-25.4,-62.8,-23.8,-62.8,-22.3,-62.1,-21.3,-62.8,-24.4,-63.7,-22.8,-64.1,-21.3,-64.8,-22.3,-65.8,-20.2,-67.4,-18.7,-66.4,-17.3,-64.5,-18.2,-65.8,-32.6,-63.4,-31.6,-65.4,-30,-64.1,-28.5,-65.4,-33.7,-60.8,-32.1,-61.4,-33.9,-65.4];
const southBlobB = [-19.2,-52.8,-19.7,-55.4,-18.2,-54.8,-16.6,-54.1,-15,-54.8,-18.7,-56.8,-17.1,-56.1,-15.6,-56.1,-14,-56.8,-12.5,-56.1,-18.2,-58.1,-16.6,-58.1,-15,-58.4,-12,-57.8,-19.9,-58.4,-17.6,-60.1,-14.5,-59.2,-17.1,-49,-18.7,-50.1,-16.4,-50.4,-24.4,-43.5,-21.3,-46.1,-18.7,-46.4,-16.6,-43.2,-14,-44.5,-12.5,-43.5,-17.6,-55.5,-16,-57,-14.8,-57];
const southBlobC = [-7.3,-47.5,-10.4,-49.5,-12,-50.1,-8.8,-50.1,-7.3,-50.1,-5.7,-51.5,-4.2,-52.1,-9.4,-52.1,-7.8,-52.1,-6.2,-53.5,-3.1,-52.8,-2.1,-52.8,-8.8,-54.8,-7.3,-55.4,-5.7,-54.8,-4.2,-54.1,-2.6,-55.2,-9.9,-56.8,-8.3,-57.4,-6.8,-56.8,-10.9,-58.8,-9.4,-58.8,-7.8,-59.4,-6.8,-60.8,-8.8,-60.8,0,-55.4,1,-56.8,0.5,-58.1,1.5,-60.1,2.5,-60.1,2,-52.1,9.1,-53.5,4.6,-57.4,6.2,-59.4,-5.2,-60.1];
const southBlobD = [-2.6,-40.6,1.5,-42.4,-0.6,-42.8,-3.4,-43.5,-0.6,-44.8,0.5,-44.8,-1.1,-46.8,0,-46.8,-3.7,-47.2,-2.1,-50.1];
const southScatter = [-10.9,-63.4,-9.4,-64.8,-9.4,-66.8,-7.3,-65,-5.4,-64.4,-4.4,-63.4,-5.2,-66.8,-4.7,-68.1,-3.5,-69.4,-2.6,-61.4,-1.6,-62.8,0,-62.8,1.5,-63.4,-2.6,-66.1,-2.6,-67.2,-0.6,-68.1,-0.2,-70.3,-2.1,-73,2,-73.8,1.5,-67.7,3.1,-66.8,4.3,-71.1,5.3,-68.1,5.1,-65.4,6.7,-65.4,6.2,-62.8,8.8,-63.4,9.8,-60.8,8.2,-66.4,9.8,-65.4,11.4,-65.4,13.9,-61.4,16.5,-61.4,16.5,-62.8,17,-64.1,14.4,-65.4,15.5,-66.1,8.8,-68.1,10.3,-67.4,11.9,-67.4,13.9,-68.1,9.8,-68.9,11.4,-68.9,7.7,-68.7,10.3,-70.7,10.8,-72.1,8.2,-72.7,13.1,-71.1,15.2,-70.6,17.2,-68.7,13.2,-73.8,16.7,-72.7,17,-73.7,22,-62.1,21.7,-63.7,20.7,-64.1,19.8,-68.1,19.4,-76.5,22.5,-73.7,22.4,-75.2,24.1,-72.6,24.5,-75,27.9,-75.4,26.9,-76.1,26.4,-77.4,29.2,-78,28.4,-75.1,26.7,-78.3];
const bottomDots = [-17.6,-71.7,-15.8,-71.8,-18.2,-74.1,-17.2,-73,-17.9,-74.3,-9.4,-75.1,-7.8,-75.1,-5.7,-74.7,-4,-74.9,-7.5,-77.4,-5.7,-76,-5.7,-78,-16.4,-93.1,-17.6,-94.4,-17.1,-93.7,-15.8,-93,-12.2,-93.3,-0.6,-93.6,-1.1,-96,-1.6,-96.4,5.6,-95.3,-21.6,-99,-23.1,-100.3,-20,-99.9,-22.3,-101.6,-24.2,-103.3,-22,-103.3,-21.8,-105.3];
const bigDotB = [3,-89,4.5,-89,2.5,-90.5,4,-90.5,5,-90.5,3.5,-91.5,2.5,-89,5.3,-88,5.1,-89.3];
const bigDotC = [-6.5,-99.5,-5,-99.5,-6.5,-101,-5,-101,-5.7,-100.3];

// points coloured blue in only one panel
const wordpressExtra = [1,103.5,-10,90,-5.5,87,-4,85,-2,84,-0.5,84,1,85,-1,83,-2.5,86,-59,70,-55,62,-92,49,-98,-39,-11.5,-93,6.5,7,11.7,5,-12.5,34.6,80,-38,81,-41,84,-44.5,11,56,61,-3.5,60,44,62,44.5,61,43,52,65,48.5,63.5,43,47,45,46,-2,-34,-2.5,-33];
const drupalExtra = [14,70.3,25.2,58.2,29.4,51,42.5,64,43,62,60,62.8,61,61.5,62.5,62,60.7,59.3,-2,100.5,-1,100,-54,69.5,-53,69,-19,76,105,5.5,104,5,9.5,-53.5,-21,60.5];
const shopifyExtra = [-36,-17,0,89];
const wixExtra = [-95,10,-94,11.5,-93,10.5,-92.5,12.5,-92,11,-91,13,-91,10,-90,12,-90,9.5,-89,8.5,-88.5,7.5,-89.5,11,-88,11.5,-92,9.5,-90.6,13.4,-93.4,13,-93.7,9.7,-92.1,9,-95.5,9.7];
const magentoExtra = [5.5,86.5,9.5,90,12,49,38.5,50,44,47,-54.5,9,-23,7,-43.5,-21.5,-48,-24];

// red points that sit on top of the blue in a panel
const wordpressRedOver = [33,6,31,5.7,34,5.5,50,14,49,15.7,60,22,61,25,59.5,23,67,-1,64,0,65.5,1,72,38,68,36,94,-21,95,-17,96,15.5,85,-1,83,0.5,47,-42,48,-41,55,-48,56.5,-49,58,-47.5,64,-35,66,-36,68,-37,70,-39,71,-38,72,-43,49,-18,45,-38,84,-49,106,2,105,4,107,1,-2,-33,-1.5,-34,44,46,40,44,-8,89,-10,92];
const drupalRedOver = [26.4,71.4,35.8,73,32.4,69.8,31.4,72.3,27,77,42,81.2,61,60,60.5,57.5];
const magentoRedOver = [-15,35.5,-12.8,31.5,-14.8,31];

function pairs(flat) {
    const out = [];
    for (let i = 0; i < flat.length; i += 2) {
        out.push({x: flat[i], y: flat[i + 1]});
    }
    return out;
}
function rows(list) {
    const out = [];
    list.forEach(function (r) {
        for (let i = 1; i < r.length; i++) {
            out.push({x: r[i], y: r[0]});
        }
    });
    return out;
}

const redAll = [].concat(
    pairs(topLeft), rows(topLeftFill), pairs(upperLeft), rows(upperLeftFill), pairs(nearUpperLeft), pairs(farLeft), pairs(wixSpot), pairs(leftBlob), pairs(leftTrail),
    pairs(topCentre), rows(topCentreFill), pairs(smallTop), rows(columnRows), rows(columnFill), pairs(columnSpots), rows(midTopRows), rows(midTopFill), pairs(midTopSpots),
    rows(rightTopRows), pairs(rightTopSpots), pairs(stripA), pairs(stripB), pairs(leftOfCap), rows(underMidRows), pairs(underMidSpots),
    pairs(rightBlob), pairs(rightCap), pairs(capRight), rows(eastTopRows), pairs(eastTopSpots), pairs(stripC), pairs(stripD), pairs(stripE), rows(stripEFill),
    rows(eastBlobRows), pairs(eastBlobSpots), rows(eastLowRows), pairs(eastLowSpots), rows(farEastRows), pairs(farEastSpots),
    pairs(dotsG), pairs(dotsH), pairs(dotsI), pairs(farEastUp), pairs(farEastRight), pairs(clusterLupper), pairs(clusterLlower), pairs(rowEast),
    pairs(lowerTop), pairs(lowerCloud), pairs(lowerEdge), pairs(lowerOut), pairs(blobWest), rows(blobWestFill), pairs(bandSouth), pairs(northEastMid),
    pairs(clusterMid), pairs(dotsSouthEast), rows(archRows), rows(archFill), pairs(archSpots), pairs(midBlob), rows(midBlobFill), rows(sweepRows), rows(sweepFill), pairs(sweepSpots),
    pairs(knotCore), pairs(sideWest), pairs(centreSpots), rows(centreRows), rows(armRows), rows(armFill), pairs(armSpots), pairs(massCloud),
    pairs(trailLine), pairs(dotsWestA), pairs(dotsWestB), rows(leftRows), rows(leftFill), pairs(leftSpots), pairs(secondLeft),
    pairs(thirdLeft), rows(upperMassRows), rows(upperMassFill), pairs(upperMassSpots), pairs(midLeft), pairs(lowerMassCloud), pairs(lowerMassSpots),
    pairs(farWestBlob), pairs(bigDotA), pairs(scatterSouthWest), pairs(spiral), rows(southRows), rows(southFill), pairs(southBlobA), pairs(southBlobB),
    pairs(southBlobC), pairs(southBlobD), pairs(southScatter), pairs(bottomDots), pairs(bigDotB), pairs(bigDotC)
);

const wordpressBlue = [].concat(
    pairs(stripE), rows(stripEFill), pairs(clusterLlower), pairs(rowEast), pairs(lowerTop), pairs(lowerCloud), pairs(lowerEdge), pairs(blobWest), rows(blobWestFill), pairs(bandSouth),
    pairs(northEastMid), rows(eastBlobRows), pairs(eastBlobSpots), rows(eastLowRows), pairs(eastLowSpots), rows(farEastRows), pairs(farEastSpots),
    pairs(dotsG), pairs(dotsH), pairs(dotsI), pairs(farEastUp), pairs(stripC), pairs(stripD), pairs(smallTop), pairs(lowerOut), pairs(wordpressExtra)
);
const drupalBlue = [].concat(rows(rightTopRows), pairs(rightTopSpots), pairs(stripB), pairs(drupalExtra));
const shopifyBlue = [].concat(pairs(topLeft), rows(topLeftFill), pairs(shopifyExtra));
const wixBlue = [].concat(pairs(wixExtra));
const magentoBlue = [].concat(pairs(knotCore), pairs(magentoExtra));

const framePlugin = {
    id: 'frame',
    afterDraw: function (chart) {
        const a = chart.chartArea;
        const c = chart.ctx;
        c.save();
        c.strokeStyle = '#000';
        c.lineWidth = 1.5;
        c.strokeRect(a.left, a.top, a.right - a.left, a.bottom - a.top);
        c.restore();
    }
};

function axis(min, max, position) {
    return {
        type: 'linear',
        position: position,
        min: min,
        max: max,
        afterBuildTicks: function (scale) {
            scale.ticks = tickValues.map(function (v) { return {value: v}; });
        },
        afterFit: function (scale) {
            if (position === 'left') { scale.width = 75; } else { scale.height = 45; }
            scale.paddingTop = 0;
            scale.paddingBottom = 0;
            scale.paddingLeft = 0;
            scale.paddingRight = 0;
        },
        grid: {display: true, drawOnChartArea: false, drawTicks: true, tickLength: 6, tickColor: '#000', tickWidth: 1.2},
        border: {display: false},
        ticks: {
            autoSkip: false,
            maxRotation: 0,
            color: '#000',
            padding: 8,
            font: {family: 'DejaVu Sans', size: 22},
            callback: function (v) { return String(v).replace('-', '\u2212'); }
        }
    };
}

function drawPanel(cfg) {
    const pad = 5;
    const canvas = document.createElement('canvas');
    const w = cfg.r - cfg.l + 75 + pad;
    const h = cfg.b - cfg.t + 45 + pad;
    canvas.width = w;
    canvas.height = h;
    canvas.style.left = (cfg.l - 75) + 'px';
    canvas.style.top = (cfg.t - pad) + 'px';
    document.getElementById('page').appendChild(canvas);

    const point = {pointRadius: 2.8, pointHoverRadius: 2.8, borderWidth: 0, pointBorderWidth: 0, showLine: false};
    const sets = [
        Object.assign({label: 'other', data: redAll, backgroundColor: '#ff0000', pointBackgroundColor: '#ff0000', order: 3}, point),
        Object.assign({label: cfg.name, data: cfg.blue, backgroundColor: '#0000ff', pointBackgroundColor: '#0000ff', order: 2}, point)
    ];
    if (cfg.over) {
        sets.push(Object.assign({label: 'over', data: cfg.over, backgroundColor: '#ff0000', pointBackgroundColor: '#ff0000', order: 1}, point));
    }
    new Chart(canvas.getContext('2d'), {
        type: 'scatter',
        data: {datasets: sets},
        options: {
            responsive: false,
            animation: false,
            layout: {autoPadding: false, padding: {top: pad, right: pad, left: 0, bottom: 0}},
            plugins: {legend: {display: false}, tooltip: {enabled: false}, title: {display: false}},
            scales: {x: axis(-123.5, 119.5, 'bottom'), y: axis(-117, 114.5, 'left')}
        },
        plugins: [framePlugin]
    });

    const cap = document.createElement('div');
    cap.className = 'cap';
    cap.textContent = cfg.caption;
    cap.style.left = cfg.capX + 'px';
    cap.style.top = (cfg.capY - 22) + 'px';
    document.getElementById('page').appendChild(cap);
}

drawPanel({name: 'WordPress', caption: '(a)  WordPress', l: 80, r: 852, t: 17, b: 591, capX: 437, capY: 680, blue: wordpressBlue, over: pairs(wordpressRedOver)});
drawPanel({name: 'Drupal', caption: '(b)  Drupal', l: 960, r: 1749, t: 4, b: 591, capX: 1319, capY: 680, blue: drupalBlue, over: pairs(drupalRedOver)});
drawPanel({name: 'Shopify', caption: '(c)  Shopify', l: 77, r: 862, t: 756, b: 1340, capX: 437, capY: 1429, blue: shopifyBlue});
drawPanel({name: 'Wix', caption: '(d)  Wix', l: 962, r: 1749, t: 755, b: 1340, capX: 1307, capY: 1429, blue: wixBlue});
drawPanel({name: 'Magento', caption: '(e)  Magento', l: 523, r: 1301, t: 1504, b: 2084, capX: 878, capY: 2167, blue: magentoBlue, over: pairs(magentoRedOver)});
</script>
</body>
</html>
